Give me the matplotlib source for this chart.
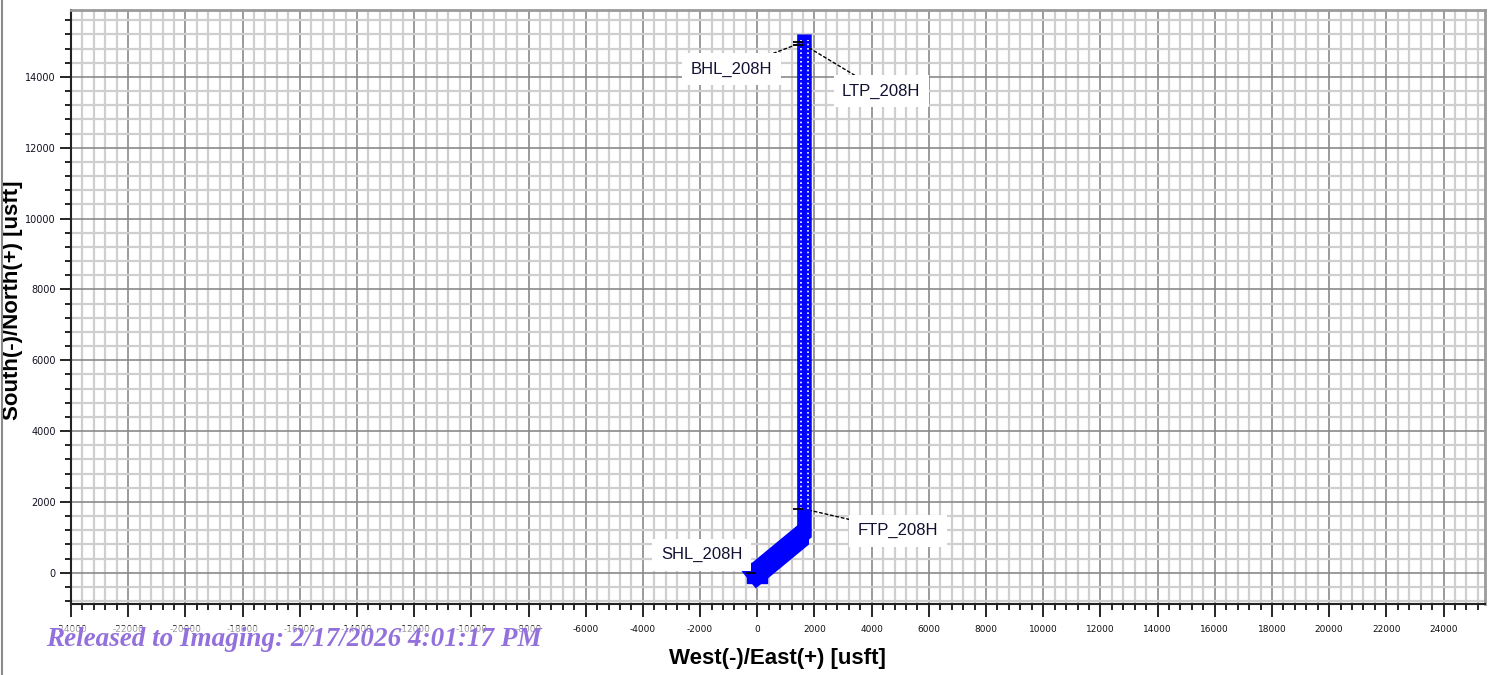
import matplotlib
matplotlib.use("Agg")
import matplotlib.pyplot as plt
from matplotlib.lines import Line2D
from matplotlib.patches import Rectangle
from matplotlib.ticker import MultipleLocator
import matplotlib.transforms as mtransforms

# ---- data ----
path_east = [0, 1650, 1650]
path_north = [0, 1100, 15200]
ftp_north = 1800

point_names = ["SHL_208H", "FTP_208H", "LTP_208H", "BHL_208H"]
point_east = [0, 1650, 1650, 1650]
point_north = [0, 1800, 14900, 15000]
label_east = [-1950, 4920, 4330, -900]
label_north = [510, 1190, 13600, 14220]
label_connector = [False, True, True, True]

x_ticks = list(range(-24000, 24001, 2000))
y_ticks = list(range(0, 14001, 2000))
xlim = (-23950, 25450)
ylim = (-880, 15890)

watermark = "Released to Imaging: 2/17/2026 4:01:17 PM"

W, H = 1492, 675
L, R, T, B = 71, 1485, 10, 604

# ---- figure ----
fig = plt.figure(figsize=(W/100, H/100), dpi=100)
ax = fig.add_axes([L/W, (H-B)/H, (R-L)/W, (B-T)/H])

ax.set_xlim(*xlim)
ax.set_ylim(*ylim)
ax.xaxis.set_minor_locator(MultipleLocator(400))
ax.yaxis.set_minor_locator(MultipleLocator(400))
ax.set_xticks(x_ticks)
ax.set_yticks(y_ticks)
ax.set_xticklabels([str(v) for v in x_ticks], fontsize=6.5, color="#111111")
ax.set_yticklabels([str(v) for v in y_ticks], fontsize=7, color="#111122")

ax.grid(which="minor", color="#cfcfcf", linewidth=1.6, zorder=0)
ax.grid(which="major", color="#8a8a8a", linewidth=1.2, zorder=0)
ax.set_axisbelow(True)

ax.tick_params(axis="x", which="major", direction="out", length=9, width=1.2, color="black", pad=6)
ax.tick_params(axis="y", which="major", direction="out", length=8, width=1.2, color="black", pad=3)
ax.tick_params(which="minor", direction="out", length=4.5, width=1.2, color="black")

for s in ["left", "bottom"]:
    ax.spines[s].set_color("#222222")
    ax.spines[s].set_linewidth(1.5)
for s in ["top", "right"]:
    ax.spines[s].set_color("#9a9a9a")
    ax.spines[s].set_linewidth(2)

# well path
ax.plot(path_east, path_north, color="#0000ff", lw=10.5,
        solid_capstyle="butt", solid_joinstyle="miter", zorder=3)
diag, = ax.plot(path_east[:2], path_north[:2], color="#0000ff", lw=16,
                solid_capstyle="projecting", zorder=3)
clip = Rectangle((xlim[0], ylim[0]), path_east[1] + 160 - xlim[0],
                 path_north[1] + 300 - ylim[0],
                 transform=ax.transData, facecolor="none", edgecolor="none")
diag.set_clip_path(clip)
ax.plot(path_east[:1], path_north[:1], marker="s", markersize=14,
        color="#0000ff", lw=0, zorder=3)
# dotted interior texture on lateral
for off in (-120, 120):
    ax.plot([path_east[2] + off, path_east[2] + off], [ftp_north, path_north[2] - 150],
            color="white", lw=1.2, linestyle=(0, (1, 1.6)), zorder=4)

# point markers (small black dashes at left of path)
tr = mtransforms.offset_copy(ax.transData, fig=fig, x=-6, y=0, units="dots")
ax.plot(point_east, point_north, marker="_", markersize=7, markeredgewidth=1.3,
        color="black", lw=0, transform=tr, zorder=5)

# labels
for name, pe, pn, le, ln, conn in zip(point_names, point_east, point_north,
                                      label_east, label_north, label_connector):
    kw = dict(fontsize=12, family=["Liberation Sans", "DejaVu Sans"],
              color="#111133", ha="center", va="center", zorder=6,
              bbox=dict(boxstyle="square,pad=0.5", facecolor="white", edgecolor="none"))
    if conn:
        ax.annotate(name, xy=(pe, pn), xytext=(le, ln),
                    arrowprops=dict(arrowstyle="-", color="black", lw=1,
                                    linestyle=(0, (2, 2)), shrinkA=0, shrinkB=5),
                    **kw)
    else:
        ax.text(le, ln, name, **kw)

ax.set_xlabel("West(-)/East(+) [usft]", fontsize=16, fontweight="bold",
              family=["Liberation Sans", "DejaVu Sans"])
ax.set_ylabel("South(-)/North(+) [usft]", fontsize=16, fontweight="bold",
              family=["Liberation Sans", "DejaVu Sans"])
ax.xaxis.set_label_coords((777-L)/(R-L), -(648-B)/(B-T))
ax.yaxis.set_label_coords(-(L-23)/(R-L), (B-300)/(B-T))

# watermark
fig.text(46/W, 1-640/H, watermark, fontsize=19.5, fontweight="bold", style="italic",
         family=["Liberation Serif", "DejaVu Serif"], color="#9370db", ha="left", va="center",
         bbox=dict(boxstyle="square,pad=0.05", facecolor="white", alpha=0.6, edgecolor="none"))

# left frame line
fig.add_artist(Line2D([2/W, 2/W], [0, 1], color="#8a8a8a", lw=1.5))

fig.savefig("out.png", dpi=100)
